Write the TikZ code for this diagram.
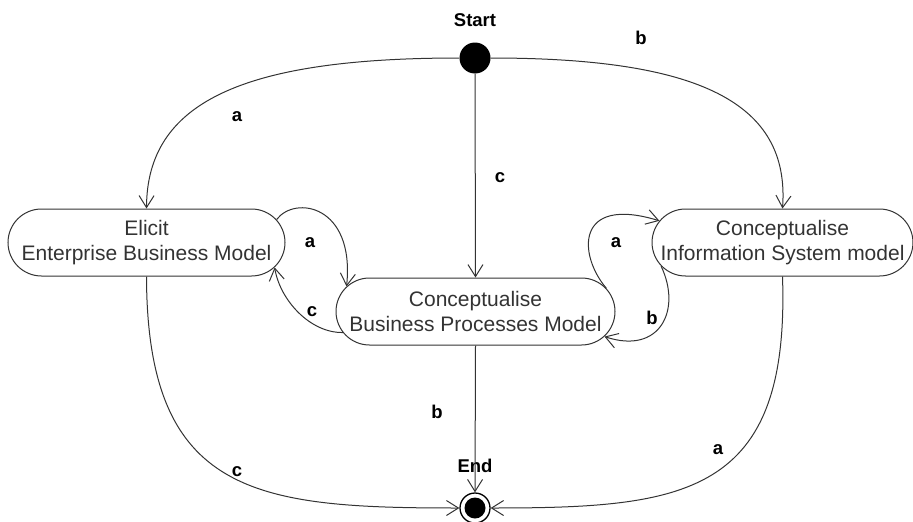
\documentclass[tikz,border=0pt]{standalone}
\usepackage{fontspec}
\setmainfont{Liberation Sans}
\usetikzlibrary{arrows.meta,shapes.misc}

\definecolor{ink}{HTML}{333333}

\tikzset{
  statebox/.style={rounded rectangle, draw=ink, line width=1pt, inner sep=0pt,
    minimum height=67pt, align=center, text=ink,
    font=\fontsize{21}{25}\selectfont},
  flow/.style={draw=ink, line width=1pt,
    -{Straight Barb[length=12pt,width=15pt,line width=1pt]}},
  tag/.style={inner sep=0pt, text=black, font=\fontsize{18.5}{22}\bfseries},
}

\begin{document}
\begin{tikzpicture}[x=1pt,y=-1pt]
  \useasboundingbox (0,0) rectangle (913,522);

  % initial and final pseudo-states
  \node[circle, fill=black, inner sep=0pt, minimum size=31pt] (start) at (475,58) {};
  \node[circle, draw=black, line width=1.3pt, inner sep=0pt, minimum size=30pt] (end) at (475,508) {};
  \node[circle, fill=black, inner sep=0pt, minimum size=21pt] (endcore) at (end) {};
  \node[tag] (startlbl) at (475,20) {Start};
  \node[tag] (endlbl) at (475,466) {End};

  % activity states
  \node[statebox, minimum width=277pt] (elicit) at (146.5,242.5) {Elicit\\Enterprise Business Model};
  \node[statebox, minimum width=279pt] (bpm) at (475.5,311.5) {Conceptualise\\Business Processes Model};
  \node[statebox, minimum width=259pt] (ism) at (782.5,242.5) {Conceptualise\\Information System model};

  % transitions out of the start state
  \draw[flow] (start.west) .. controls (241,58) and (147,103) .. (elicit.north);
  \draw[flow] (start.east) .. controls (700,58) and (790,103) .. (ism.north);
  \draw[flow] (start.south) -- (bpm.north);

  % transitions between the activities
  \draw[flow] (elicit.10) .. controls (295,195) and (355,205) .. (bpm.169);
  \draw[flow] (bpm.189) .. controls (310,333) and (280,300) .. (elicit.-11);
  \draw[flow] (bpm.10) .. controls (578,255) and (575,195) .. (ism.170);
  \draw[flow] (ism.191) .. controls (682,310) and (660,355) .. (bpm.-11);

  % transitions into the final state
  \draw[flow] (elicit.south) .. controls (147,496) and (257,508) .. (end.west);
  \draw[flow] (ism.south) .. controls (790,496) and (685,508) .. (end.east);
  \draw[flow] (bpm.south) -- (end.north);

  % guard labels
  \node[tag] (la1) at (237,117) {a};
  \node[tag] (lb1) at (641,38) {b};
  \node[tag] (lc1) at (500,178) {c};
  \node[tag] (la2) at (310,243) {a};
  \node[tag] (lc2) at (312,312) {c};
  \node[tag] (la3) at (616,243) {a};
  \node[tag] (lb2) at (652,318) {b};
  \node[tag] (lb3) at (437,412) {b};
  \node[tag] (lc3) at (237,472) {c};
  \node[tag] (la4) at (718,450) {a};
\end{tikzpicture}
\end{document}
